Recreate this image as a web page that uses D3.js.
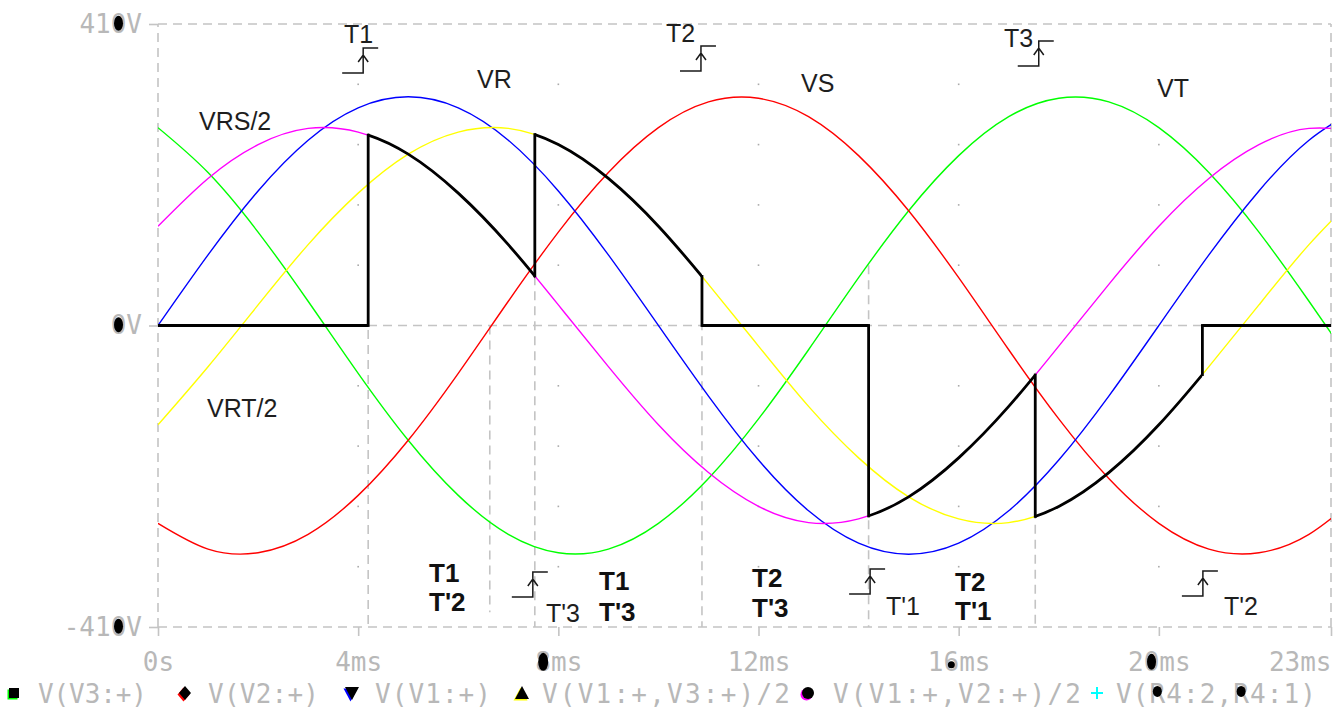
<!DOCTYPE html>
<html>
<head>
<meta charset="utf-8">
<script src="https://cdn.jsdelivr.net/npm/d3@7"></script>
<style>
  html, body { margin: 0; padding: 0; background: #fff; }
  svg { display: block; }
  .mono { font-family: "DejaVu Sans Mono", monospace; font-size: 26px; fill: #b8b8b8; }
  .note { font-family: "Liberation Sans", Arial, sans-serif; font-size: 25px; fill: #1e1e1e; }
  .note-bold { font-family: "Liberation Sans", Arial, sans-serif; font-size: 26px; font-weight: bold; fill: #111; }
</style>
</head>
<body>
<svg id="chart"></svg>
<script>
// sample instants (ms) and trace values (V)
const timeMs = [0, 1, 2, 3, 4, 5, 6, 7, 8, 9, 10, 11, 12, 13, 14, 15, 16, 17, 18, 19, 20, 21, 22, 23, 24];
const vT   = [269, 208, 127, 33, -65, -156, -231, -284, -309, -304, -269, -208, -127, -33, 65, 156, 231, 284, 309, 304, 269, 208, 127, 33, -65];
const vS   = [-269, -304, -309, -284, -231, -156, -65, 33, 127, 208, 269, 304, 309, 284, 231, 156, 65, -33, -127, -208, -269, -304, -309, -284, -231];
const vR   = [0, 96, 183, 252, 296, 311, 296, 252, 183, 96, 0, -96, -183, -252, -296, -311, -296, -252, -183, -96, 0, 96, 183, 252, 296];
const vRT2 = [-135, -56, 28, 110, 180, 233, 263, 268, 246, 200, 135, 56, -28, -110, -180, -233, -263, -268, -246, -200, -135, -56, 28, 110, 180];
const vRS2 = [135, 200, 246, 268, 263, 233, 180, 110, 28, -56, -135, -200, -246, -268, -263, -233, -180, -110, -28, 56, 135, 200, 246, 268, 263];

const traceKeys   = ["VT", "VS", "VR", "VRT", "VRS"];
const traceValues = [vT, vS, vR, vRT2, vRS2];
const traceColors = ["#00ff00", "#ff0000", "#0000ff", "#ffff00", "#ff00ff"];

// legend entries (last one is the output trace, drawn black on top)
const legendNames  = ["V(V3:+)", "V(V2:+)", "V(V1:+)", "V(V1:+,V3:+)/2", "V(V1:+,V2:+)/2", "V(R4:2,R4:1)"];
const legendColors = ["#00ff00", "#ff0000", "#0000ff", "#ffff00", "#ff00ff", "#00ffff"];

// output voltage: switching instants (ms) and which trace it follows in between
const switchMs   = [0, 4.2, 7.53, 10.87, 14.2, 17.53, 20.87, 23.44];
const outFollows = [null, "VRS", "VRT", null, "VRS", "VRT", null];

// axes
const xEnd = 23.44;
const xTicks = [0, 4, 8, 12, 16, 20, xEnd];
const xTickLabels = ["0s", "4ms", "8ms", "12ms", "16ms", "20ms", "23ms"];
const yTicks = [-410, 0, 410];
const yDots = [-328, -246, -164, -82, 82, 164, 246, 328];

// dashed marker lines: time (ms), from V, to V
const guideMs   = [4.2, 6.63, 7.53, 10.87, 14.2, 17.53];
const guideTopV = [259, 0, 67, 67, 82, -67];
const guideBotV = [-410, -390, -410, -410, -410, -410];

const W = 1333, H = 711;
const svg = d3.select("#chart").attr("width", W).attr("height", H);

const x = d3.scaleLinear().domain([0, xEnd]).range([158, 1331]);
const y = d3.scaleLinear().domain([-410, 410]).range([627, 24]);

const gridColor = "#c4c4c4";
const dash = "9,6";

svg.append("defs").append("clipPath").attr("id", "plot-clip")
  .append("rect")
  .attr("x", x(0)).attr("y", y(410))
  .attr("width", x(xEnd) - x(0)).attr("height", y(-410) - y(410));

// frame, zero line
const grid = svg.append("g").attr("class", "grid");
[[0, 410, xEnd, 410], [0, -410, xEnd, -410], [0, 0, xEnd, 0], [0, -410, 0, 410], [xEnd, -410, xEnd, 410]]
  .forEach(([t0, v0, t1, v1]) => {
    grid.append("line")
      .attr("x1", x(t0)).attr("y1", y(v0)).attr("x2", x(t1)).attr("y2", y(v1))
      .attr("stroke", gridColor).attr("stroke-width", 1.6).attr("stroke-dasharray", dash);
  });

// grid dots
xTicks.slice(1, -1).forEach(t => {
  yDots.forEach(v => {
    grid.append("rect")
      .attr("x", x(t) - 0.8).attr("y", y(v) - 0.8)
      .attr("width", 1.6).attr("height", 1.6).attr("fill", "#aaa");
  });
});

// guide lines at the firing instants
guideMs.forEach((t, i) => {
  grid.append("line")
    .attr("x1", x(t)).attr("x2", x(t))
    .attr("y1", y(guideTopV[i])).attr("y2", y(guideBotV[i]))
    .attr("stroke", gridColor).attr("stroke-width", 1.6).attr("stroke-dasharray", dash);
});

// axes
const xAxis = d3.axisBottom(x)
  .tickValues(xTicks)
  .tickSize(9)
  .tickPadding(17)
  .tickFormat((d, i) => xTickLabels[i]);

const xAxisG = svg.append("g")
  .attr("transform", `translate(0,${y(-410)})`)
  .call(xAxis);

const yAxis = d3.axisLeft(y)
  .tickValues(yTicks)
  .tickSize(9)
  .tickPadding(7)
  .tickFormat(d => d + "V");

const yAxisG = svg.append("g")
  .attr("transform", `translate(${x(0)},0)`)
  .call(yAxis);

[xAxisG, yAxisG].forEach(g => {
  g.select(".domain").remove();
  g.selectAll(".tick line").attr("stroke", gridColor).attr("stroke-width", 1.6);
  g.selectAll(".tick text").attr("class", "mono").attr("font-size", null).attr("font-family", null);
  g.attr("font-size", null).attr("font-family", null);
});
xAxisG.selectAll(".tick text").filter(d => d === xEnd).attr("text-anchor", "end");

// traces
const line = d3.line()
  .x((d, i) => x(timeMs[i]))
  .y(d => y(d))
  .curve(d3.curveNatural);

const traces = svg.append("g").attr("clip-path", "url(#plot-clip)");
const tracePaths = {};
traceValues.forEach((vals, i) => {
  tracePaths[traceKeys[i]] = traces.append("path")
    .datum(vals)
    .attr("d", line)
    .attr("fill", "none")
    .attr("stroke", traceColors[i])
    .attr("stroke-width", 1.4);
});

// y pixel of a drawn trace at a given time
function traceYAt(key, t) {
  if (key === null) return y(0);
  const node = tracePaths[key].node();
  const target = x(t);
  let lo = 0, hi = node.getTotalLength();
  for (let k = 0; k < 40; k++) {
    const mid = (lo + hi) / 2;
    if (node.getPointAtLength(mid).x < target) lo = mid; else hi = mid;
  }
  return node.getPointAtLength((lo + hi) / 2).y;
}

// output voltage
const out = svg.append("g").attr("clip-path", "url(#plot-clip)");
const outDefs = svg.select("defs");
outFollows.forEach((key, i) => {
  const t0 = switchMs[i], t1 = switchMs[i + 1];
  if (key === null) {
    out.append("line")
      .attr("x1", x(t0)).attr("x2", x(t1))
      .attr("y1", y(0)).attr("y2", y(0))
      .attr("stroke", "#000").attr("stroke-width", 2.8);
  } else {
    outDefs.append("clipPath").attr("id", "seg" + i)
      .append("rect")
      .attr("x", x(t0)).attr("width", x(t1) - x(t0))
      .attr("y", 0).attr("height", H);
    out.append("path")
      .attr("d", tracePaths[key].attr("d"))
      .attr("clip-path", `url(#seg${i})`)
      .attr("fill", "none")
      .attr("stroke", "#000").attr("stroke-width", 2.8);
  }
});
for (let i = 1; i < outFollows.length; i++) {
  const t = switchMs[i];
  out.append("line")
    .attr("x1", x(t)).attr("x2", x(t))
    .attr("y1", traceYAt(outFollows[i - 1], t))
    .attr("y2", traceYAt(outFollows[i], t))
    .attr("stroke", "#000").attr("stroke-width", 2.8)
    .attr("stroke-linecap", "square");
}

// annotations
const notes = svg.append("g");
const stepMarks = [[4.1, 73], [10.85, 71], [17.6, 66], [7.49, 597], [14.23, 594], [20.88, 596]];
stepMarks.forEach(([t, yb]) => {
  const px = x(t);
  notes.append("path")
    .attr("d", `M${px - 21},${yb}H${px}V${yb - 25}H${px + 15}M${px - 5},${yb - 11}L${px},${yb - 18}L${px + 5},${yb - 11}`)
    .attr("fill", "none").attr("stroke", "#1a1a1a").attr("stroke-width", 1.5);
});

const plainNotes = [
  ["T1", 344, 43], ["T2", 666, 42], ["T3", 1004, 47],
  ["VR", 477, 88], ["VS", 801, 92], ["VT", 1157, 97],
  ["VRS/2", 199, 130], ["VRT/2", 207, 417],
  ["T'3", 546, 622], ["T'1", 886, 615], ["T'2", 1224, 615]
];
plainNotes.forEach(([s, px, py]) => {
  notes.append("text").attr("class", "note").attr("x", px).attr("y", py).text(s);
});

const boldNotes = [
  ["T1", 429, 582], ["T'2", 429, 611],
  ["T1", 599, 590], ["T'3", 599, 621],
  ["T2", 752, 587], ["T'3", 752, 617],
  ["T2", 955, 591], ["T'1", 955, 620]
];
boldNotes.forEach(([s, px, py]) => {
  notes.append("text").attr("class", "note-bold").attr("x", px).attr("y", py).text(s);
});

// legend
const legend = svg.append("g");
const legendMarkX = [14, 185, 352, 522, 808, 1097];
const legendTextX = [38, 208, 375, 542, 833, 1116];
const legendTextW = [109, 111, 116, 248, 248, 200];
const shapes = ["square", "diamond", "down", "up", "circle", "plus"];

function markerPath(shape, cx, cy) {
  switch (shape) {
    case "square": return `M${cx - 5},${cy - 5}h10v10h-10Z`;
    case "diamond": return `M${cx},${cy - 7}L${cx + 6},${cy}L${cx},${cy + 7}L${cx - 6},${cy}Z`;
    case "down": return `M${cx - 7},${cy - 6}H${cx + 7}L${cx},${cy + 7}Z`;
    case "up": return `M${cx},${cy - 7}L${cx + 7},${cy + 6}H${cx - 7}Z`;
    case "circle": return d3.arc()({ innerRadius: 0, outerRadius: 6, startAngle: 0, endAngle: 2 * Math.PI });
  }
}

legendNames.forEach((name, i) => {
  const cx = legendMarkX[i], cy = 693;
  if (shapes[i] === "plus") {
    legend.append("path")
      .attr("d", `M${cx - 6},${cy}H${cx + 6}M${cx},${cy - 6}V${cy + 6}`)
      .attr("stroke", legendColors[i]).attr("stroke-width", 2);
  } else if (shapes[i] === "circle") {
    legend.append("path").attr("d", markerPath("circle"))
      .attr("transform", `translate(${cx - 1.5},${cy + 1.5})`).attr("fill", legendColors[i]);
    legend.append("path").attr("d", markerPath("circle"))
      .attr("transform", `translate(${cx},${cy})`).attr("fill", "#000");
  } else {
    legend.append("path").attr("d", markerPath(shapes[i], cx - 1.5, cy + 1.5)).attr("fill", legendColors[i]);
    legend.append("path").attr("d", markerPath(shapes[i], cx, cy)).attr("fill", "#000");
  }
  legend.append("text")
    .attr("class", "mono")
    .attr("x", legendTextX[i]).attr("y", 703)
    .attr("textLength", legendTextW[i]).attr("lengthAdjust", "spacing")
    .text(name);
});

// black blotches printed over some label characters in the original capture
function blot(textNode, idx, rx, ry, dy) {
  const e = textNode.getExtentOfChar(idx);
  d3.select(textNode.parentNode).append("ellipse")
    .attr("cx", e.x + e.width / 2).attr("cy", e.y + e.height * 0.48 + dy)
    .attr("rx", rx).attr("ry", ry).attr("fill", "#000");
}
yAxisG.selectAll(".tick text").each(function (d) {
  blot(this, d === -410 ? 3 : d === 0 ? 0 : 2, 4.5, 7.5, 0);
});
xAxisG.selectAll(".tick text").each(function (d) {
  if (d === 8) blot(this, 0, 5, 9, 0);
  if (d === 16) blot(this, 1, 3.5, 3.5, 3);
  if (d === 20) blot(this, 1, 4.5, 8, 0);
});
const lastLegend = legend.selectAll("text").filter(function () { return d3.select(this).text() === "V(R4:2,R4:1)"; }).node();
blot(lastLegend, 2, 4.5, 5.5, -2);
blot(lastLegend, 7, 4.5, 5.5, -2);
</script>
</body>
</html>
